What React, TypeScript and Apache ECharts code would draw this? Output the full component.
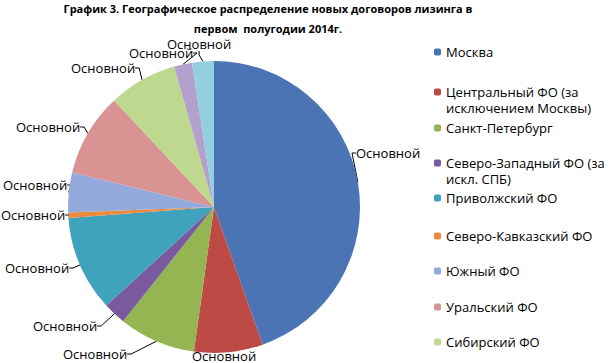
import React, { useEffect, useRef } from "react";
import * as echarts from "echarts";

const titleLines = ["График 3. Географическое распределение новых договоров лизинга в", "первом  полугодии 2014г."];
const regions = [
  "Москва",
  "Центральный ФО (за исключением Москвы)",
  "Санкт-Петербург",
  "Северо-Западный ФО (за искл. СПБ)",
  "Приволжский ФО",
  "Северо-Кавказский ФО",
  "Южный ФО",
  "Уральский ФО",
  "Сибирский ФО",
  "Дальневосточный ФО",
  "Крымский ФО",
];
const legendLabels = [
  "Москва",
  "Центральный ФО (за\nисключением Москвы)",
  "Санкт-Петербург",
  "Северо-Западный ФО (за\nискл. СПБ)",
  "Приволжский ФО",
  "Северо-Кавказский ФО",
  "Южный ФО",
  "Уральский ФО",
  "Сибирский ФО",
];
const shares = [44.6, 7.6, 8.5, 2.5, 10.6, 0.6, 4.4, 9.2, 7.6, 2.0, 2.4];
const seriesName = "Основной";
const colors = ["#4A74B4", "#BE4A46", "#94B552", "#7A5A9E", "#3FA3BE", "#EE8A3C", "#94A9DC", "#DA9393", "#BFD88F", "#B4A0CC", "#93CFE0"];
// layout (styling): legend row centres and data-label anchors (left edge, middle y)
const legendTops = [52, 92, 128, 163, 198, 236, 271, 307, 342];
const labelLeft = [356, 192, 63, 33, 5, 1, 3, 16, 71, 129, 167];
const labelMidY = [153, 356, 354, 326, 268, 215, 185, 127, 68, 53, 44];

export default function App() {
  const ref = useRef<HTMLDivElement>(null);
  useEffect(() => {
    if (!ref.current) return;
    const chart = echarts.init(ref.current, undefined, { renderer: "svg" });
    const font = "'Open Sans', 'Noto Sans', sans-serif";
    const legends = legendLabels.map((lab, i) => {
      const twoLine = lab.includes("\n");
      return {
        orient: "vertical",
        left: 434,
        top: twoLine ? legendTops[i] - 24 : legendTops[i] - 8,
        padding: 0,
        itemWidth: 7,
        itemHeight: 7,
        itemGap: 0,
        selectedMode: false,
        data: [regions[i]],
        formatter: () => (twoLine ? "\n" + lab : lab),
        textStyle: {
          fontFamily: font,
          fontSize: 13,
          color: "#000",
          lineHeight: 16,
        },
      };
    });
    chart.setOption({
      animation: false,
      color: colors,
      title: {
        text: titleLines.join("\n"),
        left: 268,
        top: -2,
        padding: 0,
        textAlign: "center",
        textStyle: { fontFamily: font, fontSize: 11, fontWeight: "bold", color: "#000", lineHeight: 20 },
      },
      legend: legends,
      series: [
        {
          type: "pie",
          name: seriesName,
          center: [214, 207],
          radius: 146,
          startAngle: 90,
          clockwise: true,
          avoidLabelOverlap: false,
          data: regions.map((r, i) => ({ name: r, value: shares[i] })),
          itemStyle: { borderWidth: 0 },
          label: {
            show: true,
            position: "outside",
            formatter: () => seriesName,
            fontFamily: font,
            fontSize: 13,
            lineHeight: 14,
            color: "#000",
            overflow: "none",
          },
          labelLine: { show: true, length: 6, length2: 4, minTurnAngle: 0, lineStyle: { color: "#000", width: 1 } },
          labelLayout: (params: any) => ({
            x: labelLeft[params.dataIndex],
            y: labelMidY[params.dataIndex],
            align: "left",
            verticalAlign: "middle",
            hideOverlap: false,
          }),
        },
      ],
    });
    return () => chart.dispose();
  }, []);
  return <div ref={ref} style={{ position: "fixed", left: 0, top: 0, width: 612, height: 363, background: "#fff" }} />;
}
